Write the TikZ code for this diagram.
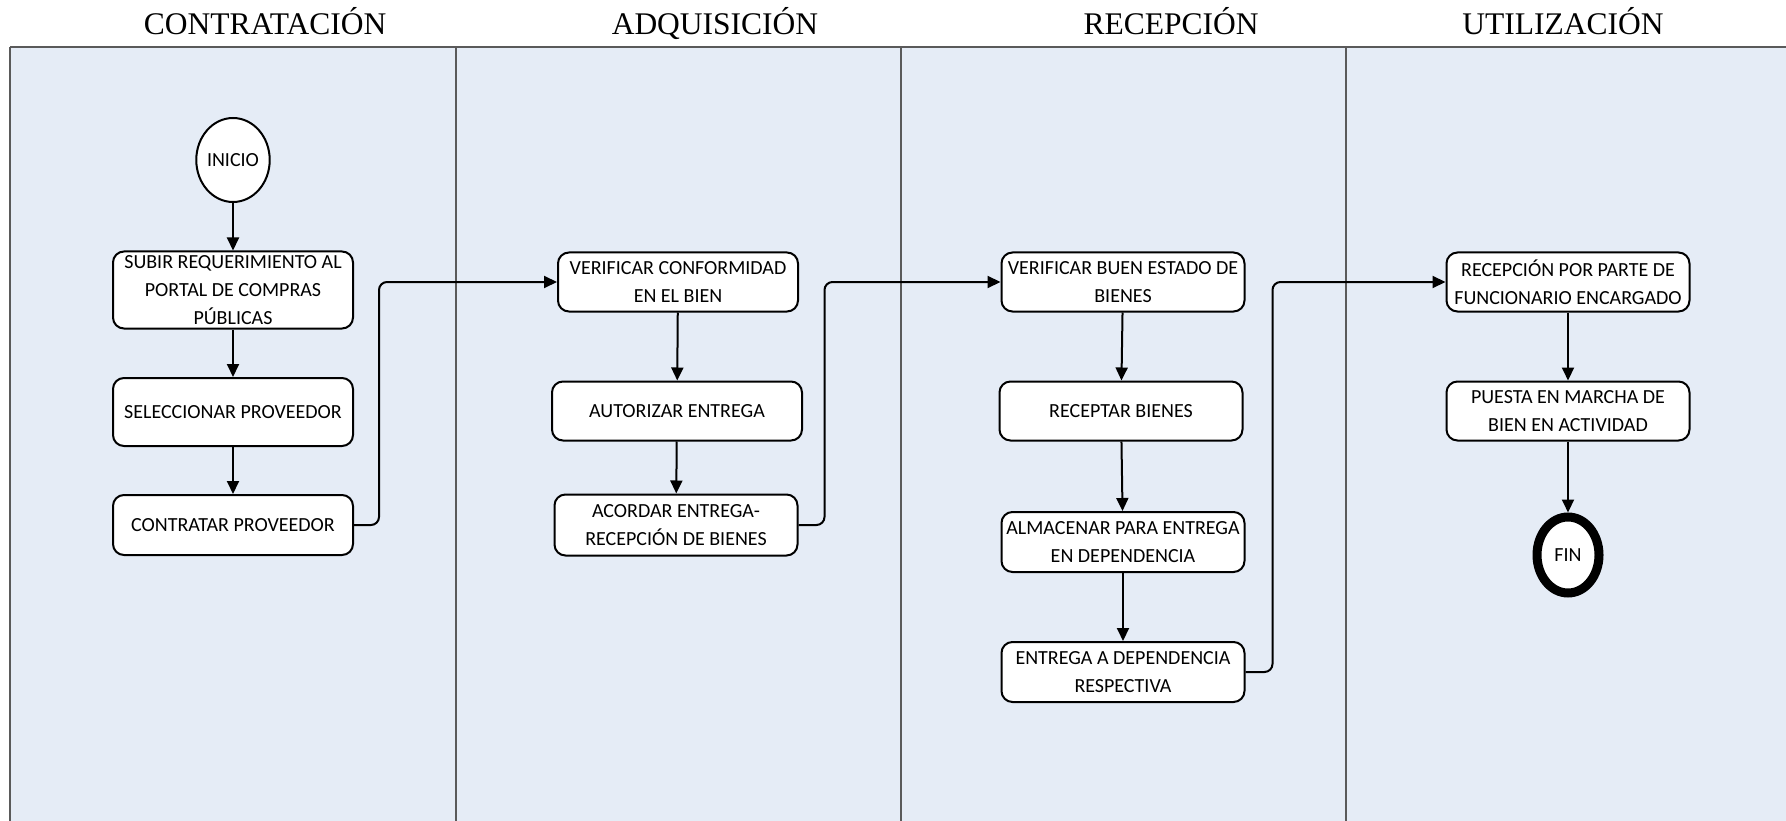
\documentclass[tikz,border=0pt]{standalone}
\usepackage{fontspec}
\setmainfont{Liberation Serif}
\newfontfamily\cajafont{Carlito}
\usepackage{xcolor}
\usetikzlibrary{calc}
\usetikzlibrary{shapes,arrows.meta}
\definecolor{carril}{RGB}{229,236,246}
\definecolor{borde}{RGB}{90,90,90}
\tikzset{paso/.style={draw, line width=2pt, rounded corners=11pt, fill=white, align=center,
    font=\cajafont\fontsize{20}{28}\selectfont, inner sep=0pt, minimum width=240, minimum height=59},
  extremo/.style={draw, ellipse, line width=2pt, fill=white, inner sep=0pt,
    font=\cajafont\fontsize{20}{28}\selectfont, minimum width=70, minimum height=84},
  flecha/.style={line width=2pt, -{Triangle[length=13pt,width=12pt]}},
  titulo/.style={anchor=base, font=\fontsize{31.5}{34}\selectfont}}

\begin{document}
\begin{tikzpicture}[x=1pt,y=-1pt]
\useasboundingbox (0,0) rectangle (1786,821);
\fill[carril] (10,47) rectangle (1786,821);
\draw[borde, line width=1.5pt] (10,47) -- (1786,47);
\draw[borde, line width=2pt] (10,47) -- (10,821);
\foreach \x in {456,901,1346}
       \draw[borde, line width=2pt] (\x,47) -- (\x,821);

\node[titulo] (t1) at (265,35) {CONTRATACIÓN};
\node[titulo] (t2) at (715,35) {ADQUISICIÓN};
\node[titulo] (t3) at (1171,35) {RECEPCIÓN};
\node[titulo] (t4) at (1563,35) {UTILIZACIÓN};

% contratacion
\node[extremo] (inicio) at (233,160) {INICIO};
\node[paso, minimum height=77] (subir) at (233,290) {SUBIR REQUERIMIENTO AL\\PORTAL DE COMPRAS\\PÚBLICAS};
\node[paso, minimum height=68] (seleccionar) at (233,412) {SELECCIONAR PROVEEDOR};
\node[paso, minimum height=60] (contratar) at (233,525) {CONTRATAR PROVEEDOR};
\draw[flecha] (inicio) -- (subir);
\draw[flecha] (subir) -- (seleccionar);
\draw[flecha] (seleccionar) -- (contratar);

% adquisicion
\node[paso] (conformidad) at (678,282) {VERIFICAR CONFORMIDAD\\EN EL BIEN};
\node[paso, minimum width=250] (autorizar) at (677,411) {AUTORIZAR ENTREGA};
\node[paso, minimum width=243, minimum height=61] (acordar) at (676,525) {ACORDAR ENTREGA-\\RECEPCIÓN DE BIENES};
\draw[flecha] (conformidad) -- (autorizar);
\draw[flecha] (autorizar) -- (acordar);

% recepcion
\node[paso, minimum width=243] (estado) at (1123,282) {VERIFICAR BUEN ESTADO DE\\BIENES};
\node[paso, minimum width=243] (receptar) at (1121,411) {RECEPTAR BIENES};
\node[paso, minimum width=243, minimum height=60] (almacenar) at (1123,542) {ALMACENAR PARA ENTREGA\\EN DEPENDENCIA};
\node[paso, minimum width=243, minimum height=60] (entrega) at (1123,672) {ENTREGA A DEPENDENCIA\\RESPECTIVA};
\draw[flecha] (estado) -- (receptar);
\draw[flecha] (receptar) -- (almacenar);
\draw[flecha] (almacenar) -- (entrega);

% utilizacion
\node[paso, minimum width=243] (funcionario) at (1568,282) {RECEPCIÓN POR PARTE DE\\FUNCIONARIO ENCARGADO};
\node[paso, minimum width=243] (puesta) at (1568,411) {PUESTA EN MARCHA DE\\BIEN EN ACTIVIDAD};
\node[extremo, line width=9pt, minimum width=62, minimum height=76] (fin) at (1568,555) {FIN};
\draw[flecha] (funcionario) -- (puesta);
\draw[flecha] (puesta) -- (fin);

% entre carriles
\draw[flecha, rounded corners=8pt] (contratar.east) -- ++(25,0) |- (conformidad.west);
\draw[flecha, rounded corners=8pt] (acordar.east) -- ++(26,0) |- (estado.west);
\draw[flecha, rounded corners=8pt] (entrega.east) -- ++(27,0) |- (funcionario.west);
\end{tikzpicture}
\end{document}
